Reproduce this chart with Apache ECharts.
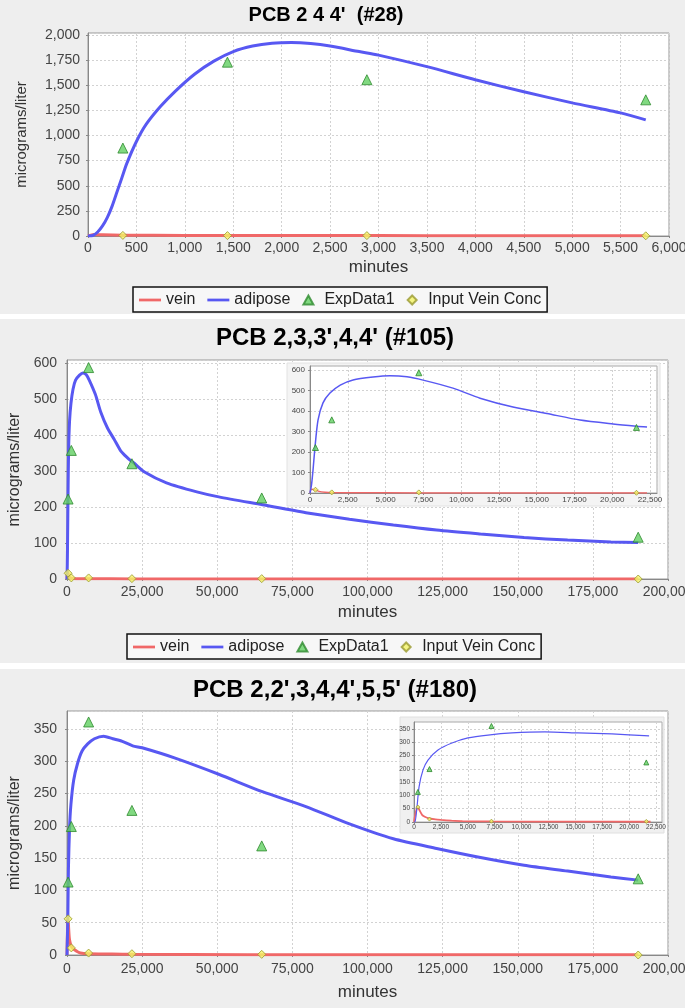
<!DOCTYPE html>
<html>
<head>
<meta charset="utf-8">
<script src="https://cdn.jsdelivr.net/npm/echarts@6/dist/echarts.min.js"></script>
<style>
html,body{margin:0;padding:0;background:#eeeeee;}
#chart{width:685px;height:1008px;}
</style>
</head>
<body>
<div id="chart"></div>
<script>
// ---------- DATA (time in minutes, concentration in micrograms/liter) ----------
const titles = ["PCB 2 4 4'  (#28)", "PCB 2,3,3',4,4' (#105)", "PCB 2,2',3,4,4',5,5' (#180)"];
const seriesNames = ['vein', 'adipose', 'ExpData1', 'Input Vein Conc'];

// PCB #28
const vein28 = [[0,0],[60,15],[150,12],[360,8],[1000,6],[2000,5],[3000,4],[4000,3],[5000,2],[5760,2]];
const adipose28 = [[0,0],[50,5],[100,40],[150,100],[200,185],[250,300],[300,440],[350,580],[400,720],[500,940],[600,1110],[750,1290],[900,1440],[1100,1610],[1300,1740],[1500,1835],[1700,1890],[1900,1918],[2100,1925],[2300,1915],[2500,1890],[2800,1835],[3000,1800],[3500,1685],[4000,1555],[4500,1435],[5000,1325],[5500,1225],[5760,1155]];
const exp28 = [[360,875],[1440,1730],[2880,1555],[5760,1355]];
const input28 = [[360,6],[1440,4],[2880,4],[5760,2]];

// PCB #105
const vein105 = [[0,0],[100,18],[360,15],[600,8],[1000,4],[1500,2],[3000,1],[7000,0.5],[22300,0.3],[190080,0]];
const adipose105 = [[0,0],[100,40],[200,112],[330,224],[530,356],[860,440],[1320,488],[2000,527],[2850,552],[4170,566],[5290,572],[6420,567],[7480,551],[9460,512],[11250,463],[13430,420],[15680,388],[17870,356],[20050,337],[21600,326],[22300,322],[25800,297],[33100,267],[43200,242],[50500,228],[65000,206],[79500,184],[94000,166],[108600,150],[123000,136],[137600,125],[152100,115],[166600,108],[181000,103],[190080,101]];
const exp105 = [[360,222],[1440,357],[7200,587],[21600,320],[64800,225],[190080,116]];
const input105 = [[360,16],[1440,3],[7200,3],[21600,1],[64800,1],[190080,0]];

// PCB #180
const vein180 = [[0,0],[100,25],[250,50],[360,55],[500,45],[750,27],[1000,20],[1300,15],[2000,10],[2500,8],[3500,5],[4500,3],[7000,2],[15000,1.5],[22000,1],[60000,0.5],[190080,0.2]];
const adipose180 = [[0,0],[90,0],[280,57],[470,132],[840,196],[1300,233],[2230,271],[3530,297],[5020,316],[6880,327],[9110,335],[12180,339],[15250,335],[18410,331],[21860,324],[25000,321],[36000,305],[50500,280],[65000,253],[79500,230],[94000,203],[108600,180],[123000,165],[137600,151],[152100,139],[166600,130],[181000,121],[190080,116]];
const exp180 = [[360,113],[1440,199],[7200,361],[21600,224],[64800,169],[190080,118]];
const input180 = [[360,56],[1440,11],[7200,3],[21600,2],[64800,1],[190080,0]];

const INSET_LIMIT = 22300;

// ---------- STYLE ----------
const FONT = "'Liberation Sans', Arial, Helvetica, sans-serif";
const RED = '#f06868';
const BLUE = '#5858f2';
const fmt = v => Math.round(v).toLocaleString('en-US');
const insetOf = arr => arr.filter(p => p[0] <= INSET_LIMIT);

const ICON_LINE = 'path://M0,0 L24,0 L24,3 L0,3 Z';
const ICON_TRI = 'path://M5,0 L10,9 L0,9 Z';
const ICON_DIA = 'path://M4,0 L8,4 L4,8 L0,4 Z';
const legendIcons = [ICON_LINE, ICON_LINE, ICON_TRI, ICON_DIA];

function xAx(gi, max, interval, fs, margin, name, nameGap, showMax, z) {
  return {
    type: 'value', gridIndex: gi, min: 0, max: max, interval: interval, z: z,
    name: name, nameLocation: 'middle', nameGap: nameGap,
    nameTextStyle: {fontSize: fs + 3, color: '#333', fontFamily: FONT},
    axisLine: {show: true, onZero: false, lineStyle: {color: '#888', width: 1}},
    axisTick: {show: true, length: 2, lineStyle: {color: '#888'}},
    axisLabel: {fontSize: fs, color: '#444', margin: margin, fontFamily: FONT, showMaxLabel: showMax, formatter: fmt},
    splitLine: {show: true, lineStyle: {color: '#d2d2d2', type: [2, 2], width: 1}}
  };
}
function yAx(gi, max, interval, fs, margin, name, nameGap, nameFs, z) {
  return {
    type: 'value', gridIndex: gi, min: 0, max: max, interval: interval, z: z,
    name: name, nameLocation: 'middle', nameGap: nameGap,
    nameTextStyle: {fontSize: nameFs, color: '#333', fontFamily: FONT},
    axisLine: {show: true, onZero: false, lineStyle: {color: '#888', width: 1}},
    axisTick: {show: true, length: 2, lineStyle: {color: '#888'}},
    axisLabel: {fontSize: fs, color: '#444', margin: margin, fontFamily: FONT, showMaxLabel: false, formatter: fmt},
    splitLine: {show: true, lineStyle: {color: '#d2d2d2', type: [2, 2], width: 1}}
  };
}
function lineS(name, data, ai, color, width, z) {
  return {type: 'line', name: name, data: data, xAxisIndex: ai, yAxisIndex: ai,
    symbol: 'none', showSymbol: false, smooth: 0.25, z: z,
    lineStyle: {color: color, width: width}, itemStyle: {color: color}};
}
function triS(data, ai, size, z) {
  return {type: 'scatter', name: 'ExpData1', data: data, xAxisIndex: ai, yAxisIndex: ai,
    symbol: 'triangle', symbolSize: size, z: z,
    itemStyle: {color: '#62cf62', borderColor: '#2e8a2e', borderWidth: 1}};
}
function diaS(data, ai, size, z) {
  return {type: 'scatter', name: 'Input Vein Conc', data: data, xAxisIndex: ai, yAxisIndex: ai,
    symbol: 'diamond', symbolSize: size, z: z,
    itemStyle: {color: '#f4f466', borderColor: '#9a9a30', borderWidth: 1}};
}
function legendAt(left, top) {
  return {
    left: left, top: top, orient: 'horizontal',
    data: seriesNames.map((n, i) => ({name: n, icon: legendIcons[i]})),
    itemWidth: 22, itemHeight: 9, itemGap: 12, symbolKeepAspect: true,
    padding: [5, 6, 4, 6],
    borderColor: '#111', borderWidth: 1.5, backgroundColor: '#f7f7f7',
    textStyle: {fontSize: 16, color: '#222', fontFamily: FONT},
    selectedMode: false
  };
}
function titleAt(text, cx, top, fs) {
  return {text: text, left: cx, top: top, textAlign: 'center', textVerticalAlign: 'top', padding: 0,
    textStyle: {fontSize: fs, fontWeight: 'bold', color: '#000', fontFamily: FONT}};
}
function gridAt(left, top, width, height, border, z) {
  return {left: left, top: top, width: width, height: height, show: true, backgroundColor: '#fff',
    borderColor: border, borderWidth: 1, z: z, containLabel: false, outerBoundsMode: 'none'};
}

const option = {
  animation: false,
  backgroundColor: '#eeeeee',
  graphic: [
    {type: 'rect', shape: {x: 0, y: 314, width: 685, height: 5}, style: {fill: '#ffffff'}, z: -1},
    {type: 'rect', shape: {x: 0, y: 663, width: 685, height: 6}, style: {fill: '#ffffff'}, z: -1},
    {type: 'rect', shape: {x: 287, y: 363, width: 373, height: 143}, style: {fill: '#f4f4f4', stroke: '#e2e2e2'}, z: 10},
    {type: 'rect', shape: {x: 400, y: 717, width: 264, height: 116}, style: {fill: '#f0f0f0', stroke: '#e0e0e0'}, z: 10}
  ],
  title: [
    titleAt(titles[0], 326, 5, 20),
    titleAt(titles[1], 335, 326, 24),
    titleAt(titles[2], 335, 678, 24)
  ],
  legend: [legendAt(133, 287), legendAt(127, 634)],
  grid: [
    gridAt(88, 33, 581, 203, '#999', 0),
    gridAt(67, 360, 601, 219, '#999', 0),
    gridAt(67, 711, 601, 244, '#999', 0),
    gridAt(310, 366, 347, 127, '#aaa', 11),
    gridAt(414, 722, 248, 100, '#aaa', 11)
  ],
  xAxis: [
    xAx(0, 6000, 500, 14, 5, 'minutes', 23, true, 0),
    xAx(1, 200000, 25000, 14, 6, 'minutes', 25, true, 0),
    xAx(2, 200000, 25000, 14, 7, 'minutes', 29, true, 0),
    xAx(3, 22960, 2500, 8, 3, '', 0, false, 11),
    xAx(4, 23060, 2500, 6.5, 2, '', 0, false, 11)
  ],
  yAxis: [
    yAx(0, 2020, 250, 14, 8, 'micrograms/liter', 59, 15, 0),
    yAx(1, 608, 100, 14, 10, 'micrograms/liter', 42, 16, 0),
    yAx(2, 378, 50, 14, 10, 'micrograms/liter', 42, 16, 0),
    yAx(3, 620, 100, 8, 5, '', 0, 8, 11),
    yAx(4, 376, 50, 6.5, 4, '', 0, 7, 11)
  ],
  series: [
    lineS('vein', vein28, 0, RED, 3, 2),
    lineS('adipose', adipose28, 0, BLUE, 3, 2),
    triS(exp28, 0, 10, 3),
    diaS(input28, 0, 8, 3),

    lineS('vein', vein105, 1, RED, 3, 2),
    lineS('adipose', adipose105, 1, BLUE, 3, 2),
    triS(exp105, 1, 10, 3),
    diaS(input105, 1, 8, 3),

    lineS('vein', vein180, 2, RED, 3, 2),
    lineS('adipose', adipose180, 2, BLUE, 3, 2),
    triS(exp180, 2, 10, 3),
    diaS(input180, 2, 8, 3),

    lineS('vein', insetOf(vein105), 3, RED, 1.5, 12),
    lineS('adipose', insetOf(adipose105), 3, BLUE, 1.5, 12),
    triS(insetOf(exp105), 3, 6, 13),
    diaS(insetOf(input105), 3, 5, 13),

    lineS('vein', insetOf(vein180), 4, RED, 1.8, 12),
    lineS('adipose', insetOf(adipose180), 4, BLUE, 1.2, 12),
    triS(insetOf(exp180), 4, 5, 13),
    diaS(insetOf(input180), 4, 4, 13)
  ]
};

const chart = echarts.init(document.getElementById('chart'), null, {renderer: 'canvas'});
chart.setOption(option);
</script>
</body>
</html>
